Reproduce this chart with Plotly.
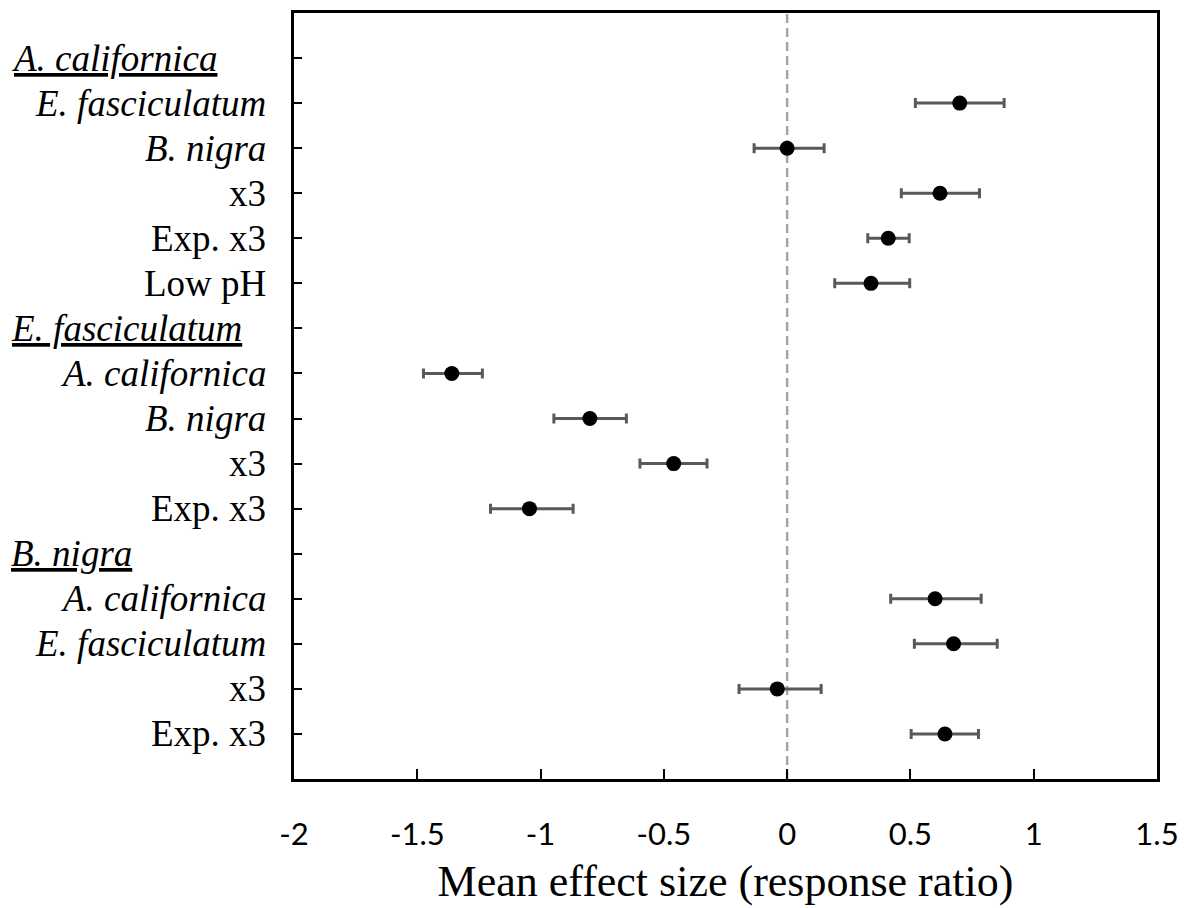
import plotly.graph_objects as go

# Row labels (top to bottom); headers are group names
row_labels = ["A. californica", "E. fasciculatum", "B. nigra", "x3", "Exp. x3", "Low pH",
              "E. fasciculatum", "A. californica", "B. nigra", "x3", "Exp. x3",
              "B. nigra", "A. californica", "E. fasciculatum", "x3", "Exp. x3"]
is_header = [True, False, False, False, False, False,
             True, False, False, False, False,
             True, False, False, False, False]
is_italic = [True, True, True, False, False, False,
             True, True, True, False, False,
             True, True, True, False, False]
mean_effect = [None, 0.70, 0.00, 0.62, 0.41, 0.34,
               None, -1.36, -0.80, -0.46, -1.045,
               None, 0.60, 0.675, -0.04, 0.64]
err_plus = [None, 0.18, 0.15, 0.16, 0.085, 0.157,
            None, 0.124, 0.148, 0.135, 0.177,
            None, 0.187, 0.177, 0.178, 0.136]
err_minus = [None, 0.18, 0.134, 0.157, 0.083, 0.147,
             None, 0.115, 0.146, 0.137, 0.158,
             None, 0.18, 0.159, 0.155, 0.137]
x_ticks = [-2, -1.5, -1, -0.5, 0, 0.5, 1, 1.5]
x_title = "Mean effect size (response ratio)"

rows = list(range(1, len(row_labels) + 1))
px_, py_, ep, em = [], [], [], []
for r, v, a, b in zip(rows, mean_effect, err_plus, err_minus):
    if v is not None:
        px_.append(v); py_.append(r); ep.append(a); em.append(b)

fig = go.Figure()
fig.add_trace(go.Scatter(
    x=px_, y=py_, mode="markers",
    marker=dict(color="black", size=15),
    error_x=dict(type="data", array=ep, arrayminus=em, symmetric=False,
                 color="#595959", thickness=3, width=5),
    showlegend=False,
))

fig.add_shape(type="line", x0=0, x1=0, y0=0, y1=1, xref="x", yref="paper",
              line=dict(color="#A6A6A6", width=2.5, dash="9px,5px"), layer="below")

L, R, T, B = 294, 33, 10, 129
W, H = 1190, 908
pw = W - L - R
for r, lab, hd, it in zip(rows, row_labels, is_header, is_italic):
    text = f"<i>{lab}</i>" if it else lab
    if hd:
        fig.add_annotation(x=(9 - L) / pw, y=r, xref="paper", yref="y", text=text,
                           showarrow=False, xanchor="left", yanchor="middle",
                           font=dict(family="Liberation Serif", size=37, color="black",
                                     lineposition="under"))
    else:
        fig.add_annotation(x=(268 - L) / pw, y=r, xref="paper", yref="y", text=text,
                           showarrow=False, xanchor="right", yanchor="middle",
                           font=dict(family="Liberation Serif", size=37, color="black"))

fig.update_layout(
    width=W, height=H,
    margin=dict(l=L, r=R, t=T, b=B),
    plot_bgcolor="white", paper_bgcolor="white",
    xaxis=dict(range=[-2, 1.5], tickvals=x_ticks, ticktext=[f"{v:g}" for v in x_ticks],
               showgrid=False, zeroline=False, showline=True, linecolor="black",
               linewidth=3, mirror=True, ticks="inside", ticklen=10, tickwidth=2,
               tickcolor="black", ticklabelstandoff=26,
               tickfont=dict(family="Lato", size=31, color="black"),
               title=dict(text=x_title, font=dict(family="Liberation Serif", size=44, color="black"),
                          standoff=14)),
    yaxis=dict(range=[17, 0], tickvals=rows, showticklabels=False,
               showgrid=False, zeroline=False, showline=True, linecolor="black",
               linewidth=3, mirror=True, ticks="inside", ticklen=8, tickwidth=2,
               tickcolor="black"),
)

fig.write_html("out.html")
